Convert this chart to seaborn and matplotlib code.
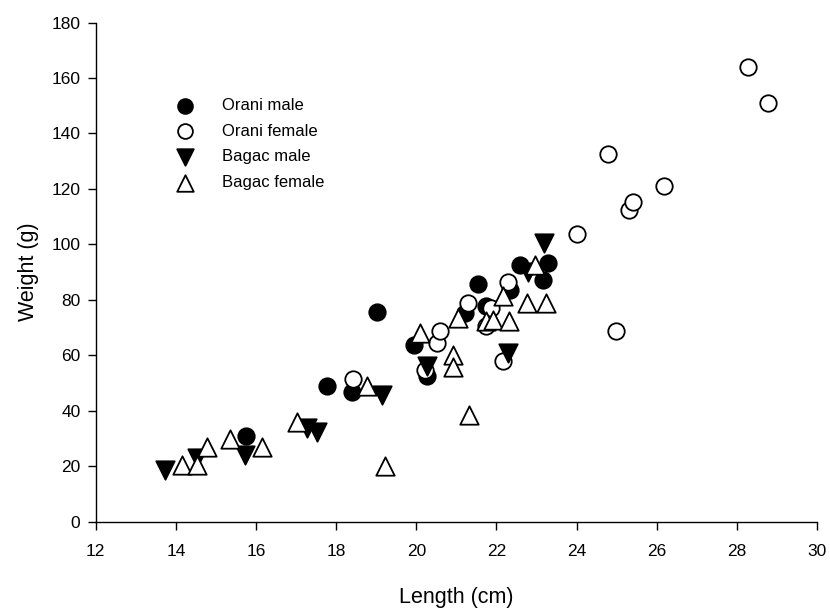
import matplotlib
matplotlib.use("Agg")
import matplotlib.pyplot as plt
import seaborn as sns
import pandas as pd

# --- data ---
orani_male_len = [15.76, 17.77, 18.39, 19.02, 19.94, 20.28, 21.21, 21.54, 21.75, 22.33, 22.59, 23.17, 23.30]
orani_male_wt = [31.0, 48.8, 46.6, 75.5, 63.8, 52.4, 75.2, 85.8, 77.6, 83.6, 92.6, 87.2, 93.2]

orani_female_len = [18.41, 20.22, 20.51, 20.59, 21.29, 21.75, 21.87, 22.17, 22.30, 24.00, 24.79, 24.99,
                    25.32, 25.42, 26.19, 28.27, 28.77]
orani_female_wt = [51.4, 54.8, 64.4, 68.6, 78.8, 70.4, 77.0, 58.1, 86.5, 103.8, 132.6, 68.6,
                   112.4, 115.1, 121.1, 164.1, 151.1]

bagac_male_len = [13.74, 14.53, 15.73, 17.27, 17.52, 19.14, 20.26, 22.29, 22.80, 23.18]
bagac_male_wt = [18.7, 23.0, 24.1, 33.8, 32.5, 45.8, 56.0, 60.8, 90.0, 100.4]

bagac_female_len = [14.16, 14.53, 14.78, 15.34, 16.15, 17.02, 18.76, 19.22, 20.09, 20.92, 20.92, 21.05,
                    21.32, 21.75, 21.92, 22.17, 22.31, 22.76, 22.96, 23.24]
bagac_female_wt = [20.5, 20.5, 26.9, 29.8, 26.9, 36.1, 48.8, 19.9, 68.0, 60.2, 55.7, 73.4,
                   38.6, 72.2, 72.8, 81.5, 72.2, 78.8, 92.6, 78.8]

groups = ["Orani male", "Orani female", "Bagac male", "Bagac female"]
x_ticks = [12, 14, 16, 18, 20, 22, 24, 26, 28, 30]
y_ticks = [0, 20, 40, 60, 80, 100, 120, 140, 160, 180]

frames = []
for g, xs, ys in zip(groups,
                     [orani_male_len, orani_female_len, bagac_male_len, bagac_female_len],
                     [orani_male_wt, orani_female_wt, bagac_male_wt, bagac_female_wt]):
    frames.append(pd.DataFrame({"Length": xs, "Weight": ys, "Group": g}))
df = pd.concat(frames, ignore_index=True)

sns.set_style("white")
plt.rcParams["font.family"] = ["Liberation Sans", "DejaVu Sans"]
plt.rcParams["text.color"] = "black"
plt.rcParams["axes.labelcolor"] = "black"
plt.rcParams["xtick.color"] = "black"
plt.rcParams["ytick.color"] = "black"

fig = plt.figure(figsize=(8.3, 6.1), dpi=100)
ax = fig.add_axes([0.1153, 0.1448, 0.8690, 0.8183])

styles = {
    "Orani male": dict(marker="o", facecolor="black", s=140),
    "Orani female": dict(marker="o", facecolor="white", s=140),
    "Bagac male": dict(marker="v", facecolor="black", s=175),
    "Bagac female": dict(marker="^", facecolor="white", s=175),
}
for g in groups:
    st = styles[g]
    sns.scatterplot(data=df[df["Group"] == g], x="Length", y="Weight", ax=ax,
                    marker=st["marker"], s=st["s"], color=st["facecolor"],
                    edgecolor="black", linewidth=1.3, label=g, zorder=3)

ax.set_xlim(12, 30)
ax.set_ylim(0, 180)
ax.set_xticks(x_ticks)
ax.set_yticks(y_ticks)
ax.set_xlabel("Length (cm)", fontsize=15.5, labelpad=20, color="black")
ax.set_ylabel("Weight (g)", fontsize=15.5, labelpad=9, color="black")
ax.tick_params(axis="both", direction="out", length=6, width=1, color="black",
               labelcolor="black", labelsize=12.5, bottom=True, left=True)
ax.tick_params(axis="x", pad=10)
ax.tick_params(axis="y", pad=5)
for side in ["top", "right"]:
    ax.spines[side].set_visible(False)
for side in ["left", "bottom"]:
    ax.spines[side].set_color("black")
    ax.spines[side].set_linewidth(1.0)

leg = ax.legend(loc="upper left", bbox_to_anchor=(0.092, 0.862), frameon=False,
                fontsize=12, labelspacing=0.64, handletextpad=1.2, borderaxespad=0,
                markerscale=0.9)
for t in leg.get_texts():
    t.set_color("black")

fig.savefig("out.png", dpi=100)
